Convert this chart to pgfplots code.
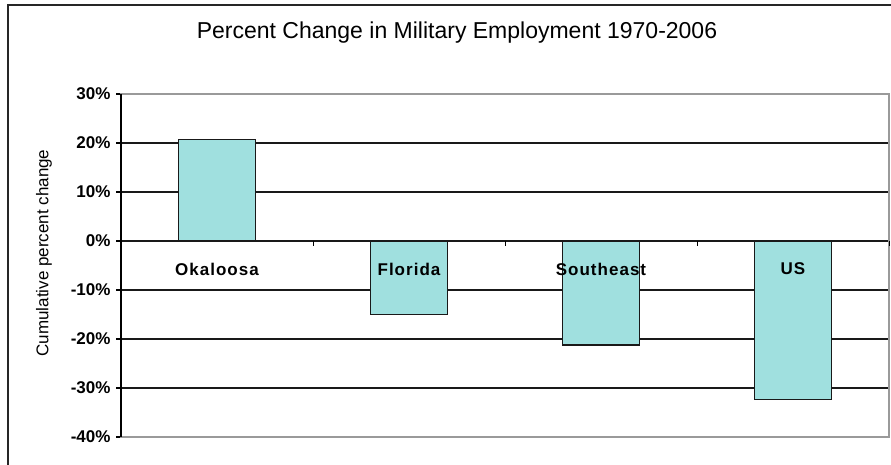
\documentclass[border=0pt]{standalone}
\usepackage{pgfplots}
\pgfplotsset{compat=1.18}
\usepackage{fontspec}
\setmainfont{Liberation Sans}
\definecolor{barfill}{HTML}{A0E0DF}
\definecolor{frameg}{HTML}{9A9A9A}
\begin{document}
\begin{tikzpicture}[x=1pt,y=1pt]
\useasboundingbox (0,0) rectangle (891,465);
\draw[line width=1.5pt, black!85] (8,-5) -- (8,460) -- (896,460);
\node[font=\fontsize{23}{27}\selectfont] at (457,432) {Percent Change in Military Employment 1970-2006};
\node[rotate=90,font=\fontsize{17}{20}\selectfont] at (44,212) {Cumulative percent change};
\begin{axis}[
  at={(121pt,28pt)}, anchor=south west,
  scale only axis, width=768pt, height=343pt,
  xmin=0, xmax=4, ymin=-40, ymax=30,
  xtick=\empty,
  ytick={-40,-30,-20,-10,0,10,20,30},
  yticklabels={-40\%,-30\%,-20\%,-10\%,0\%,10\%,20\%,30\%},
  yticklabel style={font=\fontsize{17}{20}\selectfont\bfseries, xshift=-2pt},
  ymajorgrids, grid style={black!90, line width=1.3pt},
  axis line style={draw=none},
  ytick pos=left, tick align=outside, major tick length=5pt,
  tick style={black, line width=1.2pt},
  ybar, bar width=77pt, bar shift=0pt,
  clip=false,
]
\addplot[fill=barfill, draw=black!90, line width=1.3pt] coordinates {(0.5,20.7) (1.5,-15.0) (2.5,-21.2) (3.5,-32.4)};
\draw[frameg, line width=1.3pt] (rel axis cs:0,0) rectangle (rel axis cs:1,1);
\draw[black, line width=1.3pt] (rel axis cs:0,0) -- (rel axis cs:0,1);
\pgfplotsinvokeforeach{1,2,3,4}{\draw[black, line width=1pt] (axis cs:#1,0) -- ++(0pt,-5pt);}
\begin{scope}[font=\fontsize{17}{20}\selectfont\bfseries\addfontfeature{LetterSpace=6}]
\node at (axis cs:0.5,0) [yshift=-28pt] {Okaloosa};
\node at (axis cs:1.5,0) [yshift=-28pt] {Florida};
\node at (axis cs:2.5,0) [yshift=-28pt] {Southeast};
\node at (axis cs:3.5,0) [yshift=-28pt] {US};
\end{scope}
\end{axis}
\end{tikzpicture}
\end{document}
